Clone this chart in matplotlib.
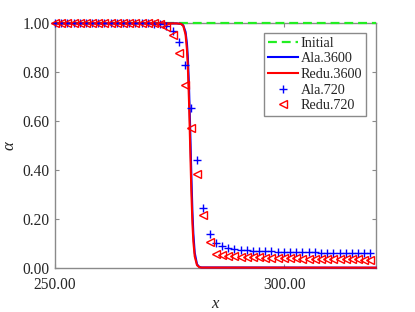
import numpy as np
import matplotlib
matplotlib.use("Agg")
import matplotlib.pyplot as plt
from matplotlib.ticker import FormatStrFormatter

plt.rcParams['font.family'] = ['Liberation Serif', 'DejaVu Serif']
plt.rcParams['mathtext.fontset'] = 'custom'
plt.rcParams['mathtext.it'] = 'Liberation Serif:italic'
plt.rcParams['mathtext.rm'] = 'Liberation Serif'

# ---- data ----
x_initial = [250.0, 320.0]
initial = [1.0, 1.0]

x_fine = [250.0, 276.5, 277.5, 278.0, 278.5, 278.8, 279.0, 279.25, 279.5,
          279.75, 280.0, 280.2, 280.5, 281.0, 281.5, 282.0, 320.0]
ala3600 = [1.0, 1.0, 0.998, 0.992, 0.965, 0.918, 0.861, 0.743, 0.575,
           0.388, 0.229, 0.140, 0.061, 0.014, 0.003, 0.001, 0.0]
redu3600 = [1.0, 1.0, 0.998, 0.990, 0.954, 0.893, 0.820, 0.681, 0.500,
            0.319, 0.180, 0.107, 0.046, 0.010, 0.002, 0.0005, 0.0]

x_coarse = 250.0 + 1.35 * np.arange(52)
ala720 = [1.0, 1.0, 1.0, 1.0, 1.0, 1.0, 1.0, 1.0, 1.0, 1.0,
          1.0, 1.0, 1.0, 1.0, 1.0, 1.0, 0.999, 0.998, 0.990, 0.968,
          0.925, 0.828, 0.655, 0.440, 0.245, 0.137, 0.100, 0.087, 0.080, 0.076,
          0.073, 0.071, 0.070, 0.069, 0.068, 0.067, 0.066, 0.066, 0.065, 0.064,
          0.064, 0.063, 0.063, 0.062, 0.062, 0.062, 0.061, 0.061, 0.061, 0.060,
          0.060, 0.060]
redu720 = [1.0, 1.0, 1.0, 1.0, 1.0, 1.0, 1.0, 1.0, 1.0, 1.0,
           1.0, 1.0, 1.0, 1.0, 1.0, 1.0, 1.0, 0.997, 0.985, 0.952,
           0.880, 0.748, 0.570, 0.383, 0.216, 0.106, 0.058, 0.052, 0.049, 0.047,
           0.045, 0.044, 0.043, 0.042, 0.041, 0.040, 0.040, 0.039, 0.039, 0.038,
           0.037, 0.037, 0.036, 0.036, 0.035, 0.035, 0.035, 0.034, 0.034, 0.034,
           0.033, 0.033]

xticks = [250, 300]
yticks = [0.0, 0.2, 0.4, 0.6, 0.8, 1.0]

# ---- figure ----
fig = plt.figure(figsize=(4.15, 3.12), dpi=100)
ax = fig.add_axes([0.1325, 0.142, 0.7728, 0.783])

ax.plot(x_initial, initial, '--', color='#22ee22', lw=1.6, dashes=(4, 2.2),
        label='Initial', clip_on=False, zorder=3)
ax.plot(x_fine, ala3600, '-', color='#0000ff', lw=1.5, label='Ala.3600',
        clip_on=False, zorder=4)
ax.plot(x_fine, redu3600, '-', color='#ff0000', lw=1.5, label='Redu.3600',
        clip_on=False, zorder=5)
ax.plot(x_coarse, ala720, '+', color='#0000ff', ms=5.5, mew=1.0, ls='none',
        label='Ala.720', clip_on=False, zorder=6)
ax.plot(x_coarse, redu720, '<', color='#ff0000', ms=5.5, mew=1.0, mfc='none',
        ls='none', label='Redu.720', clip_on=False, zorder=7)

ax.set_xlim(250, 320)
ax.set_ylim(0, 1)
ax.set_xticks(xticks)
ax.set_yticks(yticks)
ax.xaxis.set_major_formatter(FormatStrFormatter('%.2f'))
ax.yaxis.set_major_formatter(FormatStrFormatter('%.2f'))

spine_c = '#8a8a8a'
for s in ax.spines.values():
    s.set_color(spine_c)
    s.set_linewidth(1.0)
ax.tick_params(direction='in', length=3, width=0.8, color=spine_c,
               top=True, right=True, labelsize=11.2, labelcolor='#262626')
ax.tick_params(axis='x', pad=6.5)
ax.tick_params(axis='y', pad=4)

ax.set_xlabel('$x$', fontsize=12, labelpad=2, color='#262626')
ax.set_ylabel(r'$\alpha$', fontsize=12, labelpad=3, color='#262626')

leg = ax.legend(loc='upper right', fontsize=10.2, frameon=True, fancybox=False,
                edgecolor='#8a8a8a', framealpha=1, handlelength=2.1,
                handletextpad=0.2, labelspacing=0.18, borderpad=0.3,
                borderaxespad=0.65, numpoints=1)
leg.get_frame().set_linewidth(1.0)
for t in leg.get_texts():
    t.set_color('#262626')

fig.savefig('out.png', dpi=100)
